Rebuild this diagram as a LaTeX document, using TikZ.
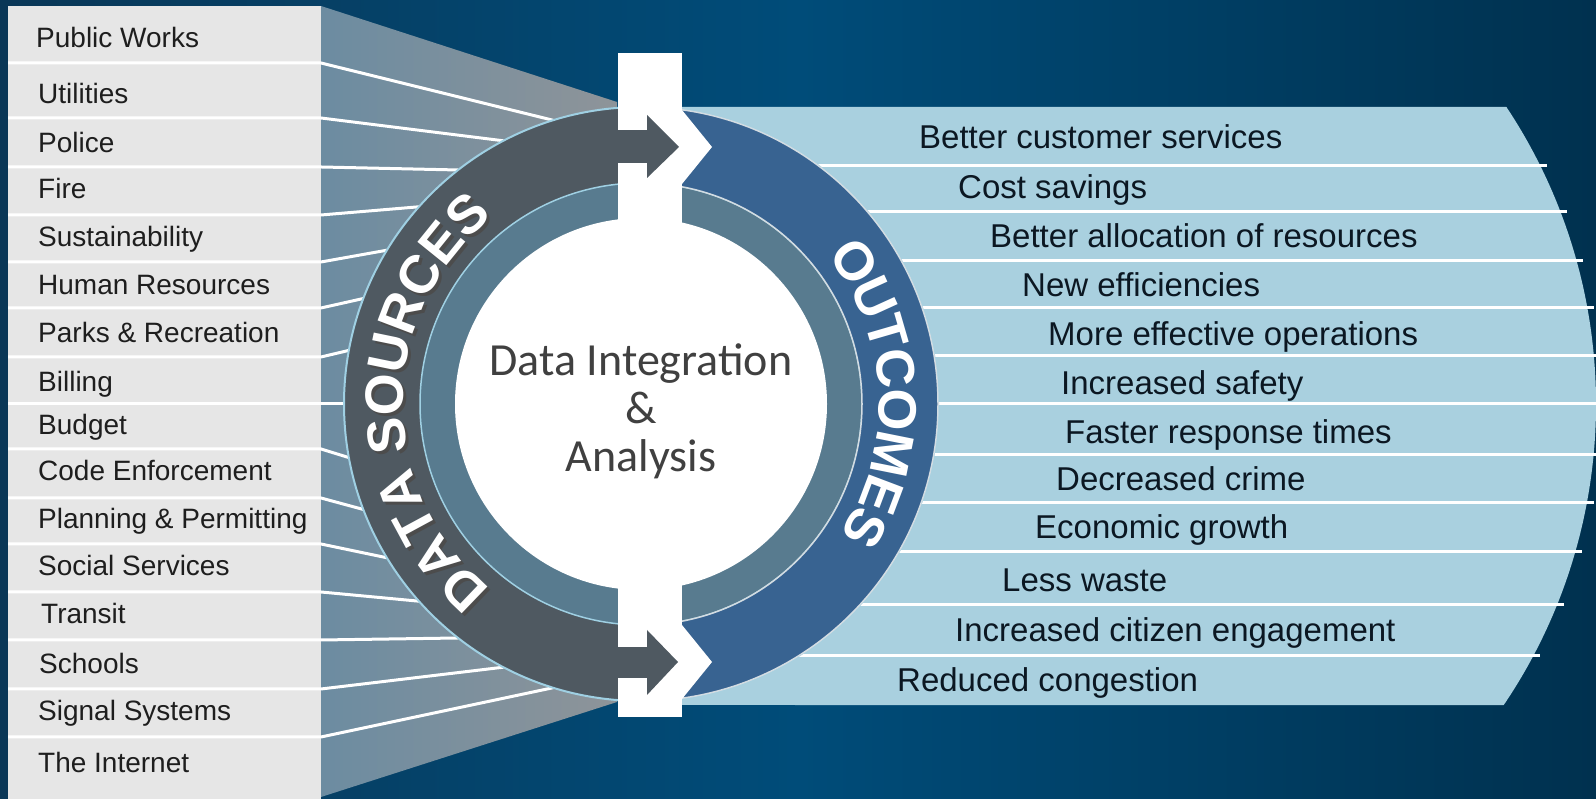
\documentclass[tikz,border=0pt]{standalone}
\usepackage{fontspec}
\setmainfont{Liberation Sans}
\newfontfamily\centerfont{Carlito}
\usetikzlibrary{decorations.text}

\definecolor{bgleft}{HTML}{0A3757}
\definecolor{bgmid}{HTML}{004C79}
\definecolor{bgright}{HTML}{00314F}
\definecolor{panelgray}{HTML}{E6E6E6}
\definecolor{fanblue}{HTML}{6C8CA1}
\definecolor{fangray}{HTML}{8E9499}
\definecolor{srcring}{HTML}{4F5961}
\definecolor{midring}{HTML}{587B8F}
\definecolor{outring}{HTML}{386391}
\definecolor{outpanel}{HTML}{A9D0DF}
\definecolor{srcedge}{HTML}{9FD0E3}
\definecolor{outedge}{HTML}{D3DCE2}
\definecolor{labeltext}{HTML}{1E1E1E}
\definecolor{outtext}{HTML}{0B1722}
\definecolor{centertext}{HTML}{404040}

\newcommand{\ringfont}{\fontsize{54}{54}\selectfont\bfseries}

\tikzset{
	srclabel/.style={anchor=west, inner sep=0pt, text=labeltext, font=\fontsize{28}{28}\selectfont, text height=20pt, text depth=0pt},
	outlabel/.style={anchor=west, inner sep=0pt, text=outtext, font=\fontsize{33}{33}\selectfont, text height=23.6pt, text depth=0pt},
	sepline/.style={draw=white, line width=3pt},
}

\begin{document}
\begin{tikzpicture}[x=1pt,y=1pt]
	\useasboundingbox (0,0) rectangle (1596,799);
	
	%Shape: Background
	\shade[left color=bgleft, right color=bgright, middle color=bgmid] (0,0) rectangle (1596,799);
	
	%Shape: Outcomes panel
	\fill[outpanel] (682,692) -- (1506.4,692) arc[start angle=33.58, end angle=-34.1, radius=537] -- (682,94) -- cycle;
	%Straight Lines: outcome rows
	\draw[sepline] (682,633) -- (1547,633);
	\draw[sepline] (682,587) -- (1567,587);
	\draw[sepline] (682,538) -- (1583,538);
	\draw[sepline] (682,491) -- (1594,491);
	\draw[sepline] (682,443) -- (1596,443);
	\draw[sepline] (682,395) -- (1596,395);
	\draw[sepline] (682,344) -- (1596,344);
	\draw[sepline] (682,296) -- (1594,296);
	\draw[sepline] (682,247) -- (1582,247);
	\draw[sepline] (682,194) -- (1564,194);
	\draw[sepline] (682,143) -- (1540,143);
	
	%Shape: Sources panel
	\fill[panelgray] (8,0) rectangle (321,793);
	%Shape: Fan
	\shade[left color=fanblue, right color=fangray] (321,793) -- (617,697) -- (617,97) -- (321,2) -- cycle;
	%Straight Lines: source rows
	\draw[sepline] (8,736) -- (321,736) -- (553.2,678.7);
	\draw[sepline] (8,681) -- (321,681) -- (503.4,658.2);
	\draw[sepline] (8,632) -- (321,632) -- (458.1,629.0);
	\draw[sepline] (8,584) -- (321,584) -- (418.9,592.2);
	\draw[sepline] (8,537) -- (321,537) -- (387.0,548.8);
	\draw[sepline] (8,491) -- (321,491) -- (363.4,500.5);
	\draw[sepline] (8,442) -- (321,442) -- (348.9,448.6);
	\draw[sepline] (8,395) -- (321,395) -- (344.0,395.0);
	\draw[sepline] (8,350) -- (321,350) -- (348.9,341.4);
	\draw[sepline] (8,301) -- (321,301) -- (363.4,289.5);
	\draw[sepline] (8,255) -- (321,255) -- (387.0,241.2);
	\draw[sepline] (8,207) -- (321,207) -- (418.9,197.8);
	\draw[sepline] (8,159) -- (321,159) -- (458.1,161.0);
	\draw[sepline] (8,110) -- (321,110) -- (503.4,131.8);
	\draw[sepline] (8,62) -- (321,62) -- (553.2,111.3);
	
	%Shape: Data sources ring
	\fill[srcring, even odd rule] (641,395) circle (297) (641,395) circle (221);
	\draw[srcedge, line width=2pt] (641,395) circle (297);
	%Shape: Middle ring and core
	\fill[midring] (641,395) circle (221);
	\draw[srcedge, line width=1.5pt] (641,395) circle (221);
	\fill[white] (641,395) circle (186);
	
	%Shape: White bar
	\fill[white] (618,746) rectangle (682,82);
	%Shape: Arrows
	\fill[srcring] (600,636) rectangle (648,669);
	\fill[srcring] (647,684) -- (679,652) -- (647,621) -- cycle;
	\fill[srcring] (600,121) rectangle (648,152);
	\fill[srcring] (647,169) -- (678,137) -- (647,104) -- cycle;
	
	%Shape: Outcomes ring
	\begin{scope}
		\clip (682,0) rectangle (1596,799);
		\fill[outring, even odd rule] (641,395) circle (297) (641,395) circle (221);
		\draw[outedge, line width=1.5pt] (641,395) circle (297);
		\draw[outedge, line width=1.5pt] (641,395) circle (221);
	\end{scope}
	%Shape: Notches
	\fill[white] (682,689) -- (712,652) -- (682,615) -- cycle;
	\fill[white] (682,174) -- (712,137) -- (682,100) -- cycle;
	
	% Ring Text
	\path[shift={(3,-3)}, decorate, decoration={text along path, text align={fit to path}, raise=-19pt,
		text={|\ringfont\color{black!70}|DATA SOURCES}}]
		([shift={(230.5:257)}]641,395) arc[start angle=230.5, end angle=128.5, radius=257];
	\path[decorate, decoration={text along path, text align={fit to path}, raise=-19pt,
		text={|\ringfont\color{white}|DATA SOURCES}}]
		([shift={(230.5:257)}]641,395) arc[start angle=230.5, end angle=128.5, radius=257];
	\path[decorate, decoration={text along path, text align={fit to path}, raise=-19pt,
		text={|\ringfont\color{white}|OUTCOMES}}]
		([shift={(38.5:257)}]641,395) arc[start angle=38.5, end angle=-33, radius=257];
	
	% Text Node
	\node[align=center, text=centertext, font=\centerfont\fontsize{46}{48}\selectfont] (core) at (641,388) {Data Integration\\\&\\Analysis};
	
	% Text Node
	\node[srclabel] (pubworks) at (36,761) {Public Works};
	\node[srclabel] (utilities) at (38,705) {Utilities};
	\node[srclabel] (police) at (38,656) {Police};
	\node[srclabel] (fire) at (38,610) {Fire};
	\node[srclabel] (sustain) at (38,562) {Sustainability};
	\node[srclabel] (humanres) at (38,514) {Human Resources};
	\node[srclabel] (parks) at (38,466) {Parks \& Recreation};
	\node[srclabel] (billing) at (38,417) {Billing};
	\node[srclabel] (budget) at (38,374) {Budget};
	\node[srclabel] (codeenf) at (38,328) {Code Enforcement};
	\node[srclabel] (planning) at (38,280) {Planning \& Permitting};
	\node[srclabel] (social) at (38,233) {Social Services};
	\node[srclabel] (transit) at (41,185) {Transit};
	\node[srclabel] (schools) at (39,135) {Schools};
	\node[srclabel] (signal) at (38,88) {Signal Systems};
	\node[srclabel] (internet) at (38,36) {The Internet};
	
	% Text Node
	\node[outlabel] (custserv) at (919,662) {Better customer services};
	\node[outlabel] (costsav) at (958,612) {Cost savings};
	\node[outlabel] (alloc) at (990,563) {Better allocation of resources};
	\node[outlabel] (neweff) at (1022,514) {New efficiencies};
	\node[outlabel] (effops) at (1048,465) {More effective operations};
	\node[outlabel] (safety) at (1061,416) {Increased safety};
	\node[outlabel] (response) at (1065,367) {Faster response times};
	\node[outlabel] (crime) at (1056,320) {Decreased crime};
	\node[outlabel] (growth) at (1035,272) {Economic growth};
	\node[outlabel] (waste) at (1002,219) {Less waste};
	\node[outlabel] (engage) at (955,169) {Increased citizen engagement};
	\node[outlabel] (congest) at (897,119) {Reduced congestion};
	
\end{tikzpicture}
\end{document}
